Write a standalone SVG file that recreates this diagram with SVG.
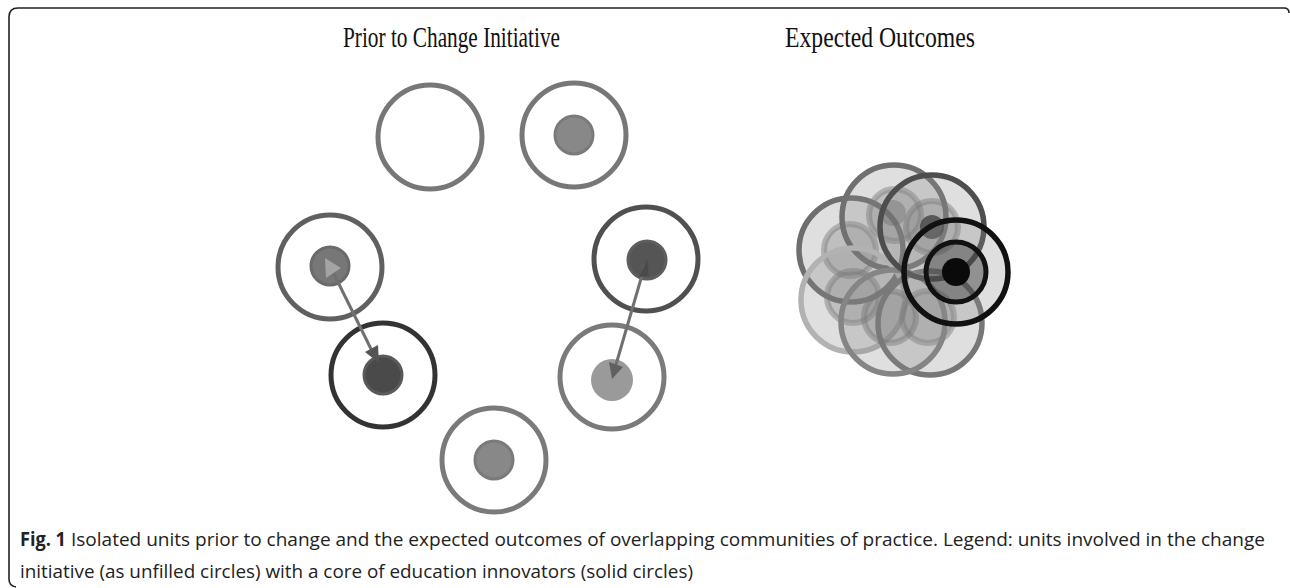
<svg xmlns="http://www.w3.org/2000/svg" width="1290" height="588" viewBox="0 0 1290 588">
<style>
.title{font-family:"Liberation Serif","Times New Roman",serif;font-size:30px;fill:#111}
.cap{font-family:"Open Sans","Liberation Sans",sans-serif;font-size:19px;fill:#222}
.ring{fill:none;stroke-width:5}
.core{stroke-width:3}
.disk{fill:#8a8a8a;fill-opacity:.27;stroke-width:5.5}
.ccore{fill:#777;fill-opacity:.3;stroke:#777;stroke-opacity:.45;stroke-width:6}
.link{stroke:#707070;stroke-width:3;fill:none}
</style>
<rect width="1290" height="588" fill="#fff"/>
<path d="M1289,13 Q1289,8 1284,8 L18,8 Q9,8 9,17 L9,579 Q9,586 16,587" fill="none" stroke="#222" stroke-width="1.6"/>

<text class="title" x="343" y="47" textLength="217" lengthAdjust="spacingAndGlyphs">Prior to Change Initiative</text>
<text class="title" x="785" y="47" textLength="190" lengthAdjust="spacingAndGlyphs">Expected Outcomes</text>

<g id="unitA"><circle class="ring" cx="430" cy="137" r="52" stroke="#777"/></g>
<g id="unitB"><circle class="ring" cx="574" cy="135" r="52" stroke="#777"/><circle class="core" cx="574" cy="135" r="19" fill="#888" stroke="#7a7a7a"/></g>
<g id="unitC"><circle class="ring" cx="330" cy="267" r="52" stroke="#606060"/><circle class="core" cx="330" cy="266" r="19" fill="#777" stroke="#6a6a6a"/></g>
<g id="unitD"><circle class="ring" cx="383" cy="375" r="52" stroke="#333"/><circle class="core" cx="383" cy="375" r="19" fill="#4a4a4a" stroke="#5a5a5a"/></g>
<g id="unitE"><circle class="ring" cx="494" cy="460" r="52" stroke="#7a7a7a"/><circle class="core" cx="494" cy="460" r="19" fill="#888" stroke="#7a7a7a"/></g>
<g id="unitF"><circle class="ring" cx="646" cy="259" r="52" stroke="#505050"/><circle class="core" cx="647" cy="260" r="19" fill="#555" stroke="#5e5e5e"/></g>
<g id="unitG"><circle class="ring" cx="612" cy="377" r="52" stroke="#7a7a7a"/><circle cx="612" cy="380" r="21" fill="#9a9a9a"/></g>

<g id="connectors">
<line class="link" x1="332" y1="270" x2="373" y2="353"/>
<polygon points="325,258 341,268 326,278" fill="#a4a4a4"/>
<polygon points="365,352 378,345 379,363" fill="#555"/>
<line class="link" x1="645" y1="265" x2="615" y2="368"/>
<polygon points="647,259 639,277 649,276" fill="#4a4a4a"/>
<polygon points="609,362 623,367 612,379" fill="#606060"/>
</g>

<g id="cluster">
<g id="cd"><circle class="disk" cx="851" cy="250" r="52" stroke="#6e6e6e"/><circle class="ccore" cx="850" cy="250" r="26"/></g>
<g id="ca"><circle class="disk" cx="894" cy="217" r="52" stroke="#707070"/><circle class="ccore" cx="895" cy="215" r="26"/><circle cx="893" cy="213" r="13" fill="#555" fill-opacity=".35"/></g>
<g id="ce"><circle class="disk" cx="853" cy="300" r="52" stroke="#b2b2b2" fill-opacity=".14"/><circle class="ccore" cx="853" cy="297" r="26" stroke-opacity=".25"/></g>
<g id="cg"><circle class="disk" cx="930" cy="323" r="52" stroke="#777"/><circle class="ccore" cx="928" cy="317" r="26"/></g>
<g id="cf"><circle class="disk" cx="893" cy="322" r="52" stroke="#858585"/><circle class="ccore" cx="890" cy="317" r="26"/></g>
<g id="cb"><circle class="disk" cx="932" cy="227" r="52" stroke="#4e4e4e"/><circle class="ccore" cx="932" cy="227" r="26"/><circle cx="932" cy="227" r="12" fill="#444" fill-opacity=".8"/></g>
<g id="cc"><circle class="disk" cx="956" cy="272" r="52" stroke="#111"/><circle cx="956" cy="272" r="30" fill="#333" fill-opacity=".45" stroke="#111" stroke-width="5"/><circle cx="956" cy="272" r="14" fill="#0a0a0a"/></g>
</g>

<text class="cap" x="20" y="546" font-weight="bold" textLength="46" lengthAdjust="spacingAndGlyphs">Fig. 1</text>
<text class="cap" x="71" y="546" textLength="1194" lengthAdjust="spacingAndGlyphs">Isolated units prior to change and the expected outcomes of overlapping communities of practice. Legend: units involved in the change</text>
<text class="cap" x="20" y="578" textLength="673" lengthAdjust="spacingAndGlyphs">initiative (as unfilled circles) with a core of education innovators (solid circles)</text>
</svg>
